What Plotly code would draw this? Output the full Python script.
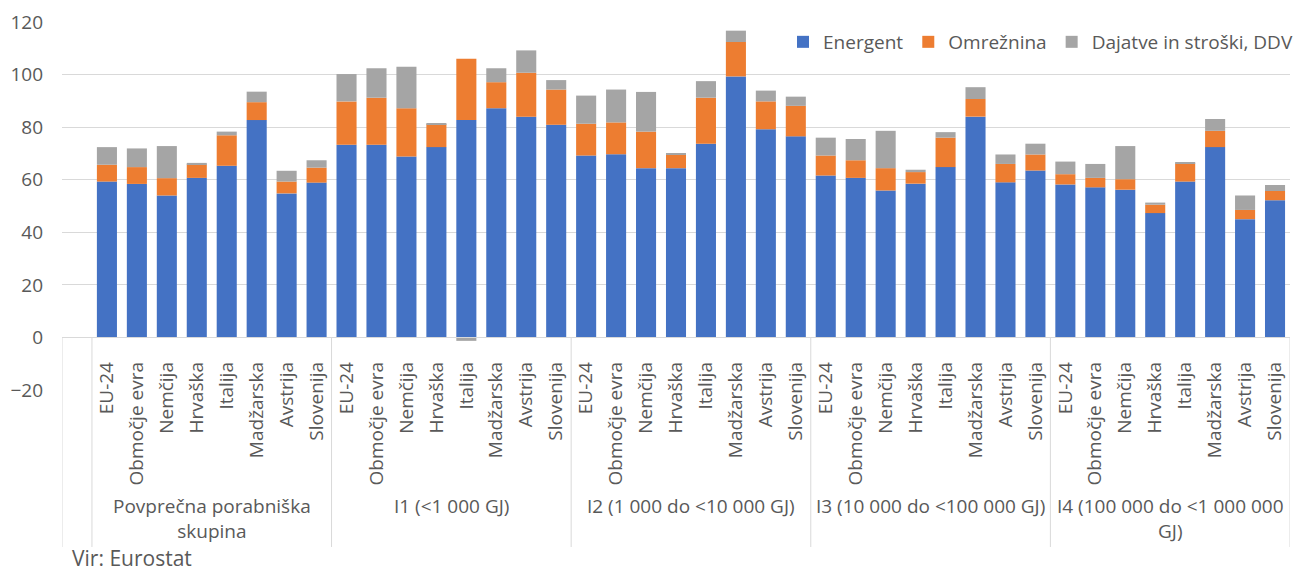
import plotly.graph_objects as go

groups = ["Povprečna porabniška<br>skupina", "I1 (&lt;1 000 GJ)", "I2 (1 000 do &lt;10 000 GJ)",
          "I3 (10 000 do &lt;100 000 GJ)", "I4 (100 000 do &lt;1 000 000<br>GJ)"]
countries = ["EU-24", "Območje evra", "Nemčija", "Hrvaška", "Italija", "Madžarska", "Avstrija", "Slovenija"]

energent = [59.3, 58.4, 54.0, 60.7, 65.3, 82.7, 54.8, 58.9,
            73.3, 73.3, 68.8, 72.4, 82.7, 87.2, 84.0, 80.9,
            69.2, 69.7, 64.4, 64.4, 73.7, 99.3, 79.2, 76.5,
            61.6, 60.7, 55.9, 58.5, 64.8, 84.0, 59.0, 63.5,
            58.2, 57.1, 56.2, 47.3, 59.3, 72.4, 45.0, 52.2]
omreznina = [6.4, 6.4, 6.6, 5.1, 11.6, 6.8, 4.5, 5.7,
             16.5, 17.9, 18.4, 8.7, 23.3, 9.9, 16.7, 13.4,
             12.1, 12.1, 13.9, 5.3, 17.5, 13.1, 10.6, 11.6,
             7.6, 6.7, 8.5, 4.4, 11.2, 6.7, 7.0, 6.1,
             3.9, 3.6, 4.0, 3.2, 6.9, 6.2, 3.5, 3.5]
dajatve = [6.7, 7.1, 12.2, 0.6, 1.4, 4.0, 4.1, 2.8,
           10.4, 11.2, 15.8, 0.2, -1.3, 5.3, 8.5, 3.6,
           10.7, 12.5, 15.1, 0.4, 6.3, 4.3, 4.1, 3.5,
           6.8, 8.1, 14.2, 0.9, 2.1, 4.5, 3.6, 4.1,
           4.8, 5.3, 12.6, 0.8, 0.2, 4.5, 5.5, 2.3]
source_text = "Vir: Eurostat"

y_min, y_max = -20, 120
y_ticks = list(range(-20, 121, 20))

# unique category ids: one empty slot first, then group|country
ids = [f"{g}|{c}" for g in range(len(groups)) for c in countries]
labels = [c for _ in groups for c in countries]
cat_order = ["_blank_"] + ids

TXT = "#595959"
GRID = "#D9D9D9"
FONT = "Open Sans"

fig = go.Figure()
for name, vals, col in [("Energent", energent, "#4472C4"),
                        ("Omrežnina", omreznina, "#ED7D31"),
                        ("Dajatve in stroški, DDV", dajatve, "#A5A5A5")]:
    fig.add_trace(go.Bar(x=ids, y=vals, name=name, marker=dict(color=col, line=dict(width=0))))

zero_paper = (0 - y_min) / (y_max - y_min)
bottom_paper = -0.4266

shapes = []
n_per = len(countries)
bounds = [-0.5, 0.5] + [0.5 + n_per * (g + 1) for g in range(len(groups))]
for b in bounds:
    shapes.append(dict(type="line", xref="x", yref="paper", x0=b, x1=b,
                       y0=zero_paper, y1=bottom_paper, line=dict(color=GRID, width=1)))

annotations = []
for g, gname in enumerate(groups):
    center = 1 + g * n_per + (n_per - 1) / 2
    annotations.append(dict(x=center, xref="x", y=-0.275, yref="paper", text=gname,
                            showarrow=False, xanchor="center", yanchor="top",
                            font=dict(family=FONT, size=19, color=TXT)))
annotations.append(dict(x=0.0065, xref="paper", y=-0.4565, yref="paper", text=source_text,
                        showarrow=False, xanchor="left", yanchor="middle",
                        font=dict(family=FONT, size=21, color=TXT)))

fig.update_layout(
    width=1302, height=572,
    margin=dict(l=62, r=4, t=22, b=182),
    paper_bgcolor="white", plot_bgcolor="white",
    barmode="relative", bargap=0.33,
    font=dict(family=FONT, size=19, color=TXT),
    showlegend=True,
    legend=dict(orientation="h", x=1.0, xanchor="right", y=0.9457, yanchor="middle",
                font=dict(family=FONT, size=19, color=TXT), bgcolor="rgba(0,0,0,0)",
                itemwidth=30, traceorder="normal"),
    xaxis=dict(type="category", categoryorder="array", categoryarray=cat_order,
               domain=[0, 1228 / 1236],
               range=[-0.5, len(cat_order) - 0.5],
               tickmode="array", tickvals=ids, ticktext=labels, tickangle=-90,
               anchor="free", position=zero_paper, showline=True, linecolor=GRID, linewidth=1,
               showgrid=False, ticks="", ticklabelstandoff=16,
               tickfont=dict(family=FONT, size=19, color=TXT)),
    yaxis=dict(range=[y_min, y_max], tickvals=y_ticks, showgrid=True, gridcolor=GRID, gridwidth=1,
               zeroline=True, zerolinecolor=GRID, zerolinewidth=1, showline=False, ticks="",
               ticklabelstandoff=18, tickfont=dict(family=FONT, size=19, color=TXT)),
    shapes=shapes, annotations=annotations,
)

fig.write_html("out.html", config={"displayModeBar": False},
               post_script="document.body.style.margin='0';document.body.style.overflow='hidden';")
